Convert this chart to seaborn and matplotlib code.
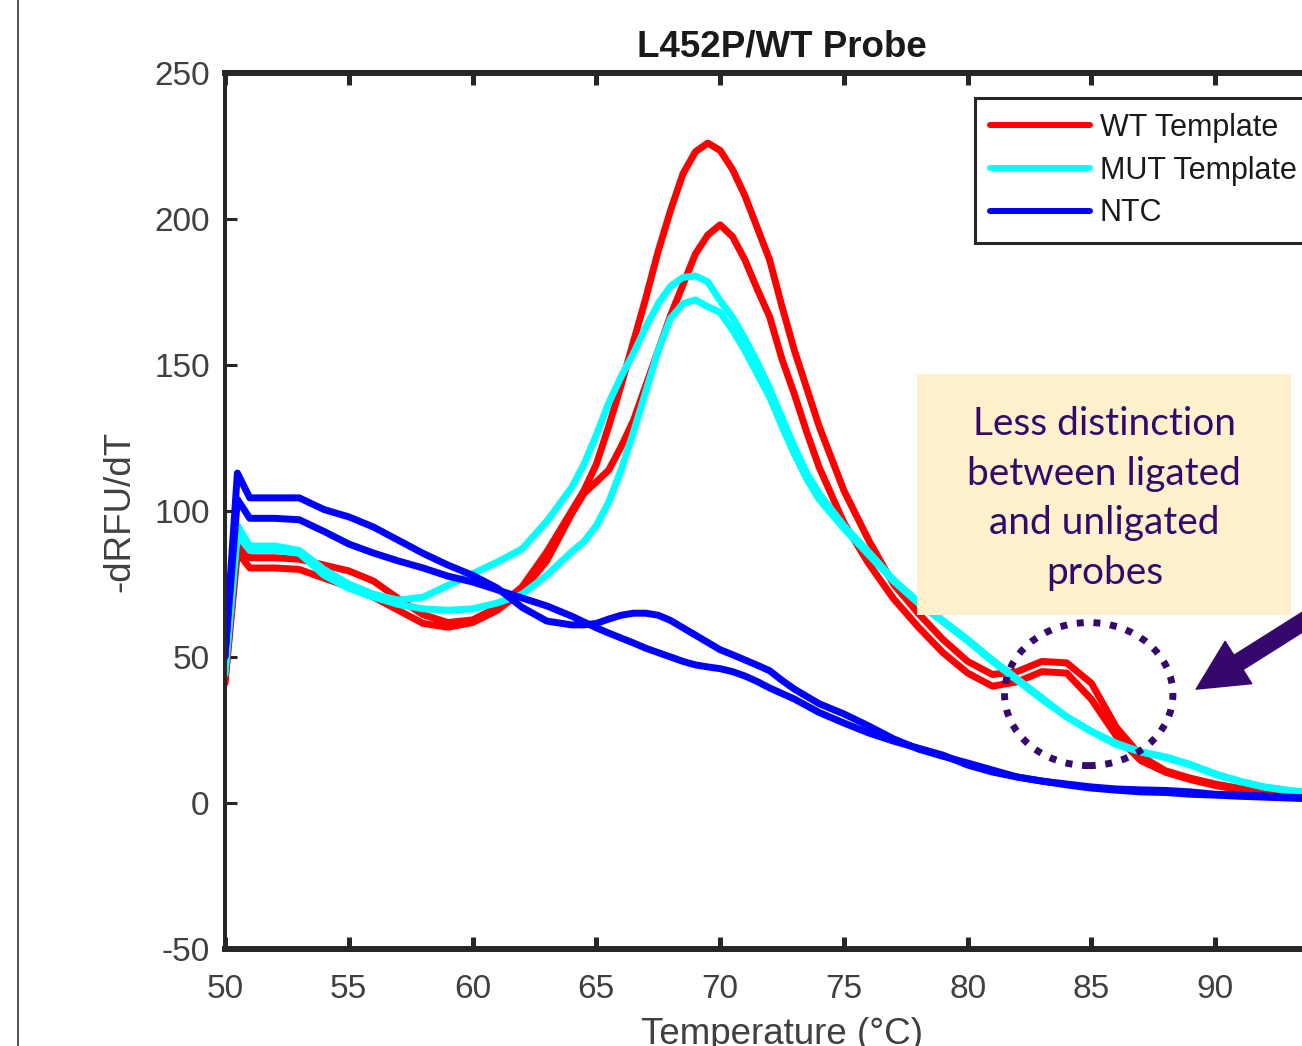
import numpy as np
import pandas as pd
import matplotlib
matplotlib.use("Agg")
import matplotlib.pyplot as plt
import seaborn as sns
from matplotlib.patches import Rectangle, Ellipse
from matplotlib.lines import Line2D

# ---------------- data ----------------
temps = [50, 50.5, 51, 52, 53, 54, 55, 56, 57, 58, 59, 60, 61, 62, 63, 64,
         64.5, 65, 65.5, 66, 66.5, 67, 67.5, 68, 68.5, 69, 69.5, 70, 70.5, 71, 71.5, 72, 72.5, 73, 73.5, 74,
         75, 76, 77, 78, 79, 80, 81, 82, 83, 84, 85, 86, 87, 88, 89, 90, 91, 92, 93, 94, 95]

wt_1 = [42, 88, 84, 84, 83.5, 81.5, 79.5, 76, 70, 64.5, 61.8, 62.7, 67, 74, 86, 100,
        107, 116, 129, 143, 158, 173, 189, 203, 215.5, 223, 226, 223.5, 217, 208, 197, 186, 170, 155, 142, 129,
        107, 90, 75, 65, 56, 48.5, 44, 45, 48.5, 48, 41, 26, 16, 11, 8.5, 6.5, 5, 3.7, 2.8, 2.2, 1.8]
wt_2 = [41, 86, 80.5, 80.5, 80, 77, 74, 70.5, 66, 61.5, 60.2, 61.8, 66, 72.5, 83, 99,
        106, 110, 114, 122, 131, 143, 155, 167, 177.5, 188, 194.5, 198, 194, 186, 176, 166.5, 152, 140, 127, 115,
        96, 82, 70, 60.3, 51.5, 44.5, 40, 41.5, 45, 44.5, 35.5, 23, 14.5, 10.5, 8, 6, 4.5, 3.4, 2.5, 2, 1.7]
mut_1 = [45, 95, 88, 88, 86.5, 80, 75, 71.5, 69.5, 70.5, 74.5, 78.5, 82.5, 87, 96.5, 108,
         116, 126, 137, 146, 154, 163, 171, 177, 180, 180.5, 178.5, 172, 166.4, 159, 151, 142, 132, 122, 113, 106,
         95, 86, 76.5, 69, 62.5, 56, 49, 42.5, 36, 29.5, 24.5, 20, 17.5, 15.8, 13.2, 10, 7.5, 5.5, 4.3, 3.5, 3]
mut_2 = [44, 92, 86.5, 86.5, 85.5, 78, 73.5, 70.5, 68, 66.5, 66, 66.5, 68.5, 71.5, 78, 86,
         89.5, 95, 103, 114, 127, 141, 155, 166, 171, 172.3, 170, 168, 162, 155, 147, 139, 129, 119.5, 111, 104,
         94, 85, 76, 68.5, 62, 55.5, 48.5, 42, 35.5, 29.5, 24.5, 20.5, 17.5, 15.5, 13, 9.8, 7.3, 5.4, 4.2, 3.4, 2.9]
ntc_1 = [50, 113, 104.5, 104.5, 104.5, 100.5, 98, 94.5, 90, 85.5, 81.5, 78, 73.6, 67, 62.3, 61,
         61, 61.5, 63, 64.3, 65, 65, 64.3, 62.5, 60, 57.5, 55, 52.5, 50.8, 49, 47.2, 45.3, 42, 39, 36.5, 34,
         30.5, 26.4, 22, 18.5, 16, 13.7, 11.3, 8.9, 7.5, 6.2, 5.1, 4.4, 3.8, 3.6, 3, 2.7, 2.3, 2, 1.7, 1.4, 1.2]
ntc_2 = [50.5, 104, 97.5, 97.5, 97, 93, 88.7, 85.6, 82.9, 80.5, 77.7, 75.7, 73, 70.2, 67.5, 64,
         62, 60, 58.2, 56.5, 54.8, 53, 51.5, 50, 48.5, 47.3, 46.6, 46, 45, 43.5, 41.6, 39.4, 37.5, 35.6, 33.3, 31,
         27.4, 24, 21.2, 18.8, 16.4, 13, 10.6, 8.9, 7.5, 6.5, 5.5, 4.8, 4.5, 4.3, 3.8, 3, 2.7, 2.4, 2, 1.7, 1.4]

groups = ["WT Template", "MUT Template", "NTC"]
series = [("WT Template", "WT-1", wt_1), ("WT Template", "WT-2", wt_2),
          ("MUT Template", "MUT-1", mut_1), ("MUT Template", "MUT-2", mut_2),
          ("NTC", "NTC-1", ntc_1), ("NTC", "NTC-2", ntc_2)]
colors = {"WT Template": "#ff0000", "MUT Template": "#00ffff", "NTC": "#0000ff"}

x_ticks = [50, 55, 60, 65, 70, 75, 80, 85, 90, 95]
y_ticks = [-50, 0, 50, 100, 150, 200, 250]

title_text = "L452P/WT Probe"
x_label = "Temperature (°C)"
y_label = "-dRFU/dT"
note_text = "Less distinction\nbetween ligated\nand unligated\nprobes"

rows = []
for grp, sample, vals in series:
    for t, v in zip(temps, vals):
        rows.append({"Temperature": t, "dRFU": v, "Group": grp, "Sample": sample})
df = pd.DataFrame(rows)

# ---------------- style ----------------
sns.set_style("white")
plt.rcParams["font.family"] = ["Liberation Sans", "DejaVu Sans"]
plt.rcParams["axes.unicode_minus"] = False

W, H = 1302, 1046
fig = plt.figure(figsize=(W / 100, H / 100), dpi=100)
# axes extends past the right edge of the figure (cropped like the reference)
ax_l, ax_r, ax_t, ax_b = 225, 1339, 73, 949
ax = fig.add_axes([ax_l / W, 1 - ax_b / H, (ax_r - ax_l) / W, (ax_b - ax_t) / H])

sns.lineplot(data=df, x="Temperature", y="dRFU", hue="Group", hue_order=groups,
             units="Sample", estimator=None, palette=colors, linewidth=5,
             sort=False, legend=False, ax=ax)

ax.set_xlim(50, 95)
ax.set_ylim(-50, 250)
ax.set_xticks(x_ticks)
ax.set_yticks(y_ticks)

axis_color = "#262626"
for side, lw in [("top", 4.3), ("bottom", 4.3), ("left", 2.9), ("right", 2.9)]:
    ax.spines[side].set_visible(True)
    ax.spines[side].set_color(axis_color)
    ax.spines[side].set_linewidth(lw)

ax.tick_params(axis="x", direction="in", length=8.6, width=3.6, color=axis_color,
               top=True, bottom=True, labelsize=24, labelcolor="#404040", pad=18)
ax.tick_params(axis="y", direction="in", length=8.6, width=2.2, color=axis_color,
               left=True, right=True, labelsize=24, labelcolor="#404040", pad=11)

ax.set_title(title_text, fontsize=26.5, fontweight="bold", color="#1a1a1a", pad=12)
ax.set_xlabel(x_label, fontsize=26.5, color="#404040")
ax.set_ylabel(y_label, fontsize=26.5, color="#404040")
ax.xaxis.set_label_coords(0.5, (ax_b - 1017) / (ax_b - ax_t))
ax.yaxis.set_label_coords((120 - ax_l) / (ax_r - ax_l), 0.5)
ax.yaxis.label.set_verticalalignment("center")

# legend
handles = [Line2D([], [], color=colors[g], lw=4.3) for g in groups]
leg = ax.legend(handles, groups, loc="upper left",
                bbox_to_anchor=(975 / W, 1 - 98 / H), bbox_transform=fig.transFigure,
                borderaxespad=0, fontsize=22, handlelength=3.27, handletextpad=0.33,
                labelspacing=0.42, borderpad=0.48, fancybox=False, framealpha=1,
                edgecolor=axis_color)
leg.get_frame().set_linewidth(2.2)
for txt in leg.get_texts():
    txt.set_color("#1a1a1a")

# annotation box, dotted circle and arrow
note_color = "#36086e"
box = Rectangle((77.96, 64.4), 15.11, 82.5, facecolor="#FFF1CC", edgecolor="none", zorder=3)
ax.add_patch(box)
ax.text(85.52, 104.3, note_text, ha="center", va="center", multialignment="center",
        fontsize=28, color=note_color, family=["Lato", "DejaVu Sans"], linespacing=1.47, zorder=4)

ell = Ellipse((84.89, 37.3), 6.8, 49, fill=False, edgecolor=note_color, linewidth=5,
              linestyle=(0, (1, 1.4)), zorder=4)
ax.add_patch(ell)

ax.annotate("", xy=(89.23, 39.0), xytext=(96.1, 75.7), xycoords="data", textcoords="data",
            arrowprops=dict(arrowstyle="simple,head_length=1.0,head_width=1.0,tail_width=0.34",
                            mutation_scale=36, color=note_color, shrinkA=0, shrinkB=0),
            annotation_clip=False, zorder=5)

# thin border line at left of the picture
fig.add_artist(Line2D([18 / W, 18 / W], [0, 1], transform=fig.transFigure,
                      color="#333333", lw=1.2))

fig.savefig("out.png", dpi=100)
